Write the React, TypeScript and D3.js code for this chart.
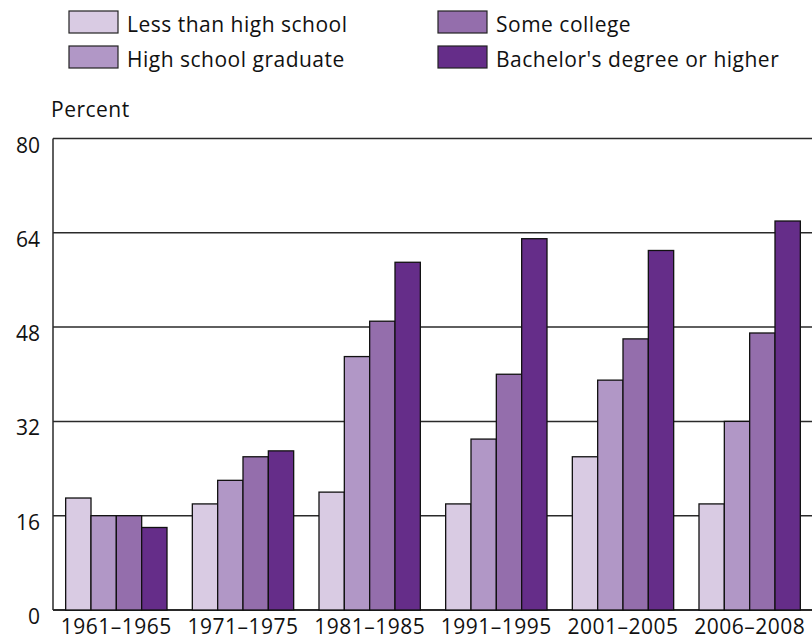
import React from "react";
import { scaleBand, scaleLinear, scaleOrdinal } from "d3";

const periods = ["1961–1965", "1971–1975", "1981–1985", "1991–1995", "2001–2005", "2006–2008"];
const levels = ["Less than high school", "High school graduate", "Some college", "Bachelor's degree or higher"];
const lessThanHS = [19, 18, 20, 18, 26, 18];
const hsGrad = [16, 22, 43, 29, 39, 32];
const someCollege = [16, 26, 49, 40, 46, 47];
const bachelors = [14, 27, 59, 63, 61, 66];
const yTicks = [0, 16, 32, 48, 64, 80];
const colors = ["#d9cbe3", "#b197c6", "#946eac", "#652d89"];

const series = [lessThanHS, hsGrad, someCollege, bachelors];

const W = 812;
const H = 639;
const font = "'Open Sans', sans-serif";

export default function App() {
  const x = scaleBand<string>().domain(periods).range([53, 813]).paddingInner(0.2).paddingOuter(0.1);
  const x1 = scaleBand<string>().domain(levels).range([0, x.bandwidth()]);
  const y = scaleLinear().domain([0, 80]).range([610, 138.5]);
  const color = scaleOrdinal<string, string>().domain(levels).range(colors);

  // legend: two columns, two rows
  const legendCols = [69, 438];
  const legendRows = [11, 46];

  return (
    <svg width={W} height={H} style={{ position: "absolute", left: 0, top: 0, background: "#fff" }}>
      {levels.map((l, i) => {
        const lx = legendCols[Math.floor(i / 2)];
        const ly = legendRows[i % 2];
        return (
          <g key={l}>
            <rect x={lx} y={ly} width={49} height={22} fill={color(l)} stroke="#222" strokeWidth={1.2} />
            <text x={lx + 58} y={ly + 21} fontFamily={font} fontSize={21} letterSpacing={0.5} fill="#111">{l}</text>
          </g>
        );
      })}

      <text x={51} y={117} fontFamily={font} fontSize={21} letterSpacing={0.5} fill="#111">Percent</text>

      {yTicks.map((t) => (
        <g key={t}>
          <line x1={53} x2={813} y1={y(t)} y2={y(t)} stroke="#2a2a2a" strokeWidth={t === 0 ? 2 : 1.5} />
          <text x={40} y={y(t) + 14} textAnchor="end" fontFamily={font} fontSize={21} fill="#111">{t}</text>
        </g>
      ))}
      <line x1={53} x2={53} y1={y(80)} y2={y(0)} stroke="#2a2a2a" strokeWidth={1.5} />
      <line x1={813} x2={813} y1={y(80)} y2={y(0)} stroke="#2a2a2a" strokeWidth={1.5} />

      {periods.map((p, pi) => (
        <g key={p} transform={`translate(${x(p)},0)`}>
          {levels.map((l, li) => (
            <rect
              key={l}
              x={x1(l)}
              y={y(series[li][pi])}
              width={x1.bandwidth()}
              height={y(0) - y(series[li][pi])}
              fill={color(l)}
              stroke="#111"
              strokeWidth={1.3}
            />
          ))}
          <text x={x.bandwidth() / 2} y={634} textAnchor="middle" fontFamily={font} fontSize={21} letterSpacing={0.5} fill="#111">{p}</text>
        </g>
      ))}
    </svg>
  );
}
